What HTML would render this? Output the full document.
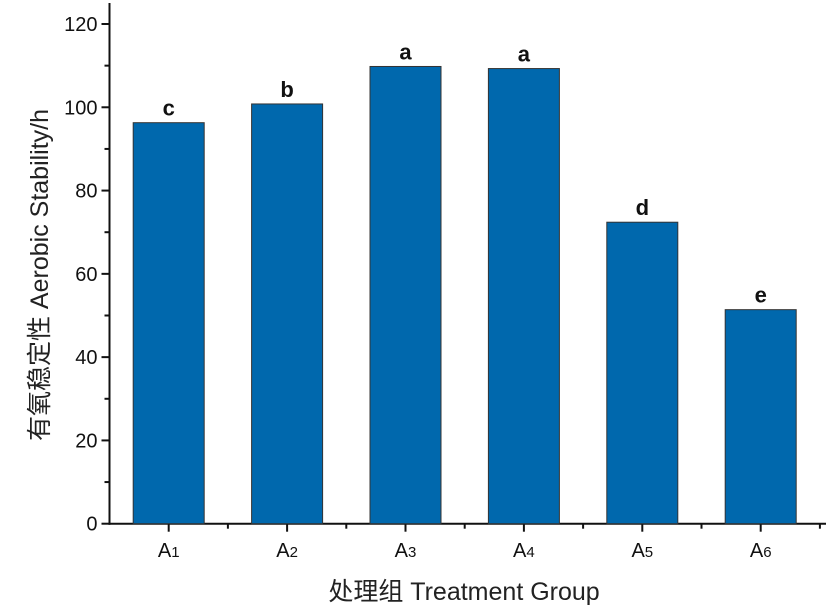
<!DOCTYPE html>
<html><head><meta charset="utf-8"><style>
html,body{margin:0;padding:0;background:#fff;}
svg{display:block;font-family:"Liberation Sans",Arial,sans-serif;}
</style></head><body>
<svg id="chart" width="827" height="614" viewBox="0 0 827 614" xmlns="http://www.w3.org/2000/svg">
<g id="ticks"></g>
<g id="bars"></g>
<text x="464" y="600" font-size="25" text-anchor="middle" fill="#222" font-family="'Liberation Sans','Noto Sans CJK SC',sans-serif">处理组 Treatment Group</text>
<text transform="translate(48,275) rotate(-90)" font-size="25" text-anchor="middle" fill="#222" font-family="'Liberation Sans','Noto Sans CJK SC',sans-serif">有氧稳定性 Aerobic Stability/h</text>
</svg>
<script>
const categories = ["A1","A2","A3","A4","A5","A6"];
const values = [96.3, 100.8, 109.8, 109.3, 72.4, 51.4];
const letters = ["c","b","a","a","d","e"];
const yTicks = [0,20,40,60,80,100,120];

const NS="http://www.w3.org/2000/svg";
const x0=109.5, y0=523.7, pxPerUnit=(523.7-24)/120, step=118.4, barW=71;
function yScale(v){return y0 - v*pxPerUnit;}
function xCenter(i){return x0 + step*(i+0.5);}
function mk(tag,attrs,parent){const e=document.createElementNS(NS,tag);for(const k in attrs)e.setAttribute(k,attrs[k]);parent.appendChild(e);return e;}
const ax=document.getElementById('ticks'), bg=document.getElementById('bars');

categories.forEach((c,i)=>{
  const cx=xCenter(i), top=yScale(values[i]);
  const r=mk('rect',{x:cx-barW/2,y:top,width:barW,height:y0-top,fill:'#0068ad',stroke:'#333','stroke-width':1},bg);
  
  
  const t=mk('text',{x:cx,y:top-7,'font-size':22,'font-weight':'bold','text-anchor':'middle',fill:'#111'},bg);
  t.textContent=letters[i];
  
  
  const lab=mk('text',{x:cx,y:557,'font-size':20,'text-anchor':'middle',fill:'#111'},ax);
  lab.textContent='A';
  const sub=mk('tspan',{'font-size':15},lab);
  sub.textContent=c.slice(1);
  
  
  const tk=mk('line',{x1:cx,y1:y0,x2:cx,y2:y0+8,stroke:'#111','stroke-width':2},ax);
  
  
  const mt=mk('line',{x1:x0+step*(i+1),y1:y0,x2:x0+step*(i+1),y2:y0+5,stroke:'#111','stroke-width':2},ax);
  
  
});
yTicks.forEach((v,i)=>{
  const y=yScale(v);
  const l=mk('line',{x1:x0-8,y1:y,x2:x0,y2:y,stroke:'#111','stroke-width':2},ax);
  
  
  const t=mk('text',{x:x0-12,y:y+7,'font-size':20,'text-anchor':'end',fill:'#111'},ax);
  t.textContent=v;
  
  
  if(i<yTicks.length-1){
    const m=mk('line',{x1:x0-5,y1:yScale(v+10),x2:x0,y2:yScale(v+10),stroke:'#111','stroke-width':2},ax);
    
    
  }
});
const ya=mk('line',{x1:x0,y1:3,x2:x0,y2:y0+1,stroke:'#111','stroke-width':2},ax);


const xa=mk('line',{x1:x0-1,y1:y0,x2:826,y2:y0,stroke:'#111','stroke-width':2},ax);


</script>
</body></html>
